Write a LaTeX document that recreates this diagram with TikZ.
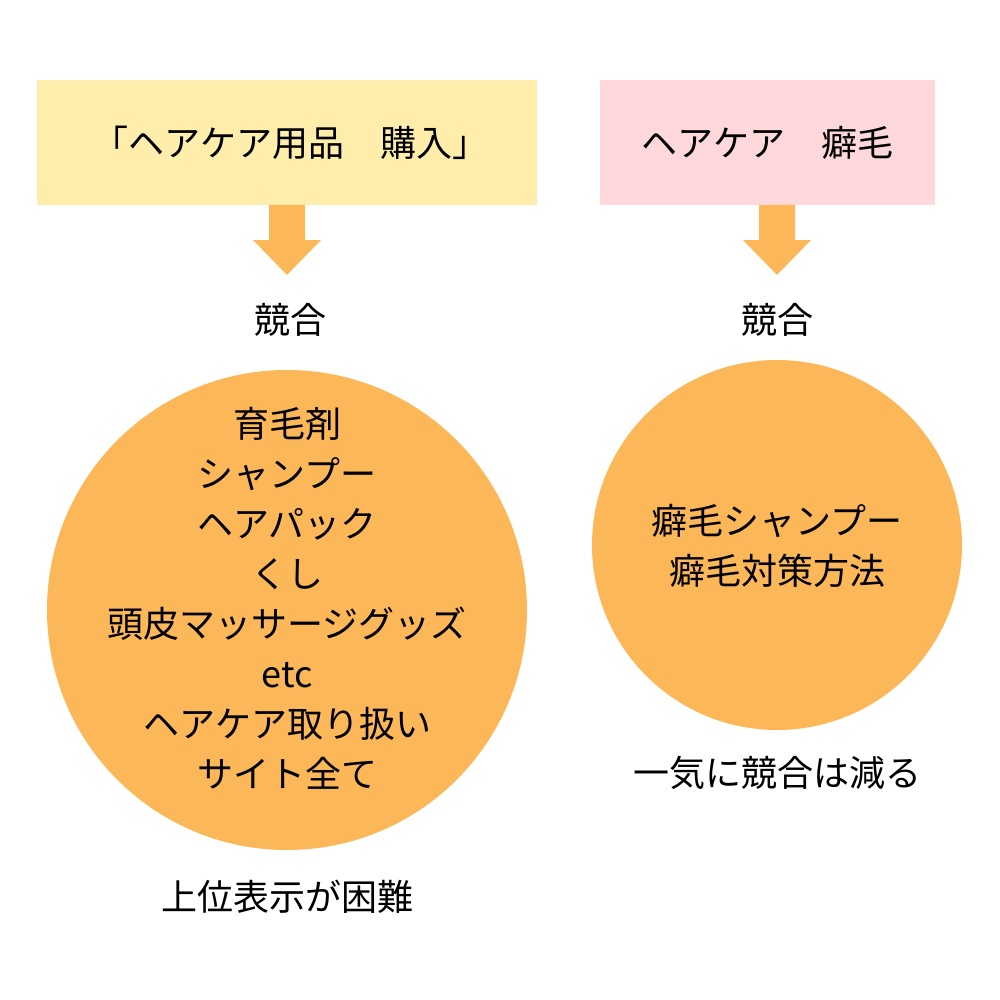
\documentclass[tikz,border=0pt]{standalone}
\usepackage{fontspec}
\setmainfont{Noto Sans CJK JP}
\usetikzlibrary{shapes.geometric}
\definecolor{boxyellow}{HTML}{FEEDAB}
\definecolor{boxpink}{HTML}{FFD8DB}
\definecolor{orng}{HTML}{FCB858}
\tikzset{
  txt/.style={font=\fontsize{36}{50}\selectfont, text=black, inner sep=0pt, align=center},
  topbox/.style={draw=none, minimum height=125pt, inner sep=0pt},
  bubble/.style={circle, fill=orng, draw=none, inner sep=0pt},
  downarrow/.style={fill=orng, draw=none}
}
\begin{document}
\begin{tikzpicture}[x=1pt,y=-1pt]
\useasboundingbox (0,0) rectangle (1000,1000);
% top boxes
\node[topbox, fill=boxyellow, minimum width=500pt] (boxL) at (287,142.5) {};
\node[txt] (boxLt) at (290,143) {「ヘアケア用品　購入」};
\node[topbox, fill=boxpink, minimum width=335pt] (boxR) at (767.5,142.5) {};
\node[txt] (boxRt) at (767,143) {ヘアケア　癖毛};
% arrows
\fill[downarrow] (269,205) -- (305,205) -- (305,240) -- (321,240) -- (287,275) -- (253,240) -- (269,240) -- cycle;
\fill[downarrow] (759,205) -- (795,205) -- (795,240) -- (811,240) -- (777,275) -- (743,240) -- (759,240) -- cycle;
% labels
\node[txt] (kyoL) at (290,320) {競合};
\node[txt] (kyoR) at (777,320) {競合};
% circles
\node[bubble, minimum size=480pt] (cL) at (287,610) {};
\node[bubble, minimum size=370pt] (cR) at (777,545) {};
\node[txt] (cLt) at (287,598) {育毛剤\\シャンプー\\ヘアパック\\くし\\頭皮マッサージグッズ\\etc\\ヘアケア取り扱い\\サイト全て};
\node[txt] (cRt) at (777,546) {癖毛シャンプー\\癖毛対策方法};
% bottom labels
\node[txt] (botR) at (777,773) {一気に競合は減る};
\node[txt] (botL) at (287,897) {上位表示が困難};
\end{tikzpicture}
\end{document}
